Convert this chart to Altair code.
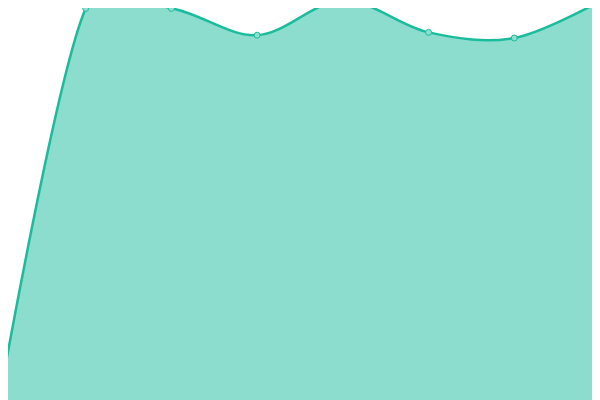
import altair as alt
import pandas as pd

# categories (x index) and series values
x_idx = [0, 1, 2, 3, 4, 5, 6, 7]
values = [1.0, 97.9, 97.9, 91.2, 99.9, 91.9, 90.5, 99.7]

df = pd.DataFrame({"i": x_idx, "v": values})

# scales arranged so the plot lines up with the full window despite the 8px page margin
xs = alt.Scale(domain=[8 * 7 / 600, 592 * 7 / 600], nice=False, zero=False)
ys = alt.Scale(domain=[0, 98], nice=False)

base = alt.Chart(df).encode(
    x=alt.X("i:Q", scale=xs, axis=None),
    y=alt.Y("v:Q", scale=ys, axis=None),
)

area = base.mark_area(
    interpolate="cardinal",
    color="#1abc9c",
    fillOpacity=0.5,
    line={"color": "#1abc9c", "strokeWidth": 2.5},
)

pts = base.mark_point(
    filled=True,
    shape="circle",
    size=36,
    fill="#8ddfcf",
    stroke="#1abc9c",
    strokeWidth=1,
    opacity=1,
)

chart = (
    (area + pts)
    .properties(width=584, height=392, padding=0, autosize=alt.AutoSizeParams(type="none"))
    .configure_view(stroke=None)
)

chart.save("out.html", embed_options={"renderer": "svg", "actions": False})
